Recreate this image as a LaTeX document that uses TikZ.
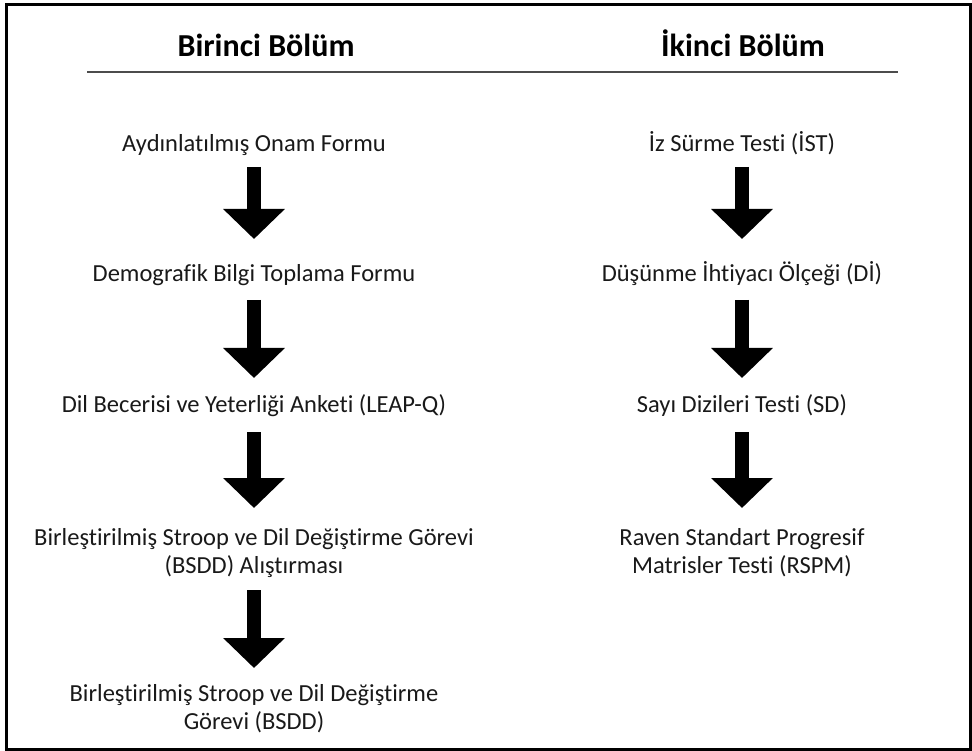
\documentclass[tikz,border=0pt]{standalone}
\usepackage{fontspec}
\setmainfont[Ligatures=NoCommon]{Carlito}
\usetikzlibrary{arrows.meta}

\begin{document}
\begin{tikzpicture}[x=1pt,y=1pt,
  step text/.style={anchor=base, inner sep=0pt, align=center,
    font=\fontsize{24.5}{28}\selectfont, text=black!90},
  part title/.style={anchor=base, inner sep=0pt,
    font=\fontsize{32}{38}\selectfont\bfseries},
  down arrow/.style={line width=14pt, -{Triangle[width=60pt,length=30pt]}},
]
  \useasboundingbox (0,0) rectangle (972,-751);
  \draw[line width=3pt] (6.5,-4.5) rectangle (970.5,-749.5);

  % headers
  \node[part title] (p1) at (266,-57) {Birinci Bölüm};
  \node[part title] (p2) at (743,-57) {İkinci Bölüm};
  \draw[line width=2pt, black!70] (87,-72) -- (898,-72);

  % first part (base of a two-line node = its last line)
  \node[step text] (a1) at (254,-152) {Aydınlatılmış Onam Formu};
  \node[step text] (a2) at (254,-282) {Demografik Bilgi Toplama Formu};
  \node[step text] (a3) at (254,-412) {Dil Becerisi ve Yeterliği Anketi (LEAP-Q)};
  \node[step text] (a4) at (254,-573) {Birleştirilmiş Stroop ve Dil Değiştirme Görevi\\(BSDD) Alıştırması};
  \node[step text] (a5) at (254,-729) {Birleştirilmiş Stroop ve Dil Değiştirme\\Görevi (BSDD)};

  % second part
  \node[step text] (b1) at (742,-152) {İz Sürme Testi (İST)};
  \node[step text] (b2) at (742,-282) {Düşünme İhtiyacı Ölçeği (Dİ)};
  \node[step text] (b3) at (742,-412) {Sayı Dizileri Testi (SD)};
  \node[step text] (b4) at (742,-573) {Raven Standart Progresif\\Matrisler Testi (RSPM)};

  \draw[down arrow] ([yshift=-15pt]a1.base) -- ([yshift=43pt]a2.base);
  \draw[down arrow] ([yshift=-18pt]a2.base) -- ([yshift=34pt]a3.base);
  \draw[down arrow] ([yshift=-20pt]a3.base) -- ([yshift=65pt]a4.base);
  \draw[down arrow] ([yshift=-17pt]a4.base) -- ([yshift=61pt]a5.base);
  \draw[down arrow] ([yshift=-15pt]b1.base) -- ([yshift=43pt]b2.base);
  \draw[down arrow] ([yshift=-18pt]b2.base) -- ([yshift=34pt]b3.base);
  \draw[down arrow] ([yshift=-20pt]b3.base) -- ([yshift=65pt]b4.base);
\end{tikzpicture}
\end{document}
